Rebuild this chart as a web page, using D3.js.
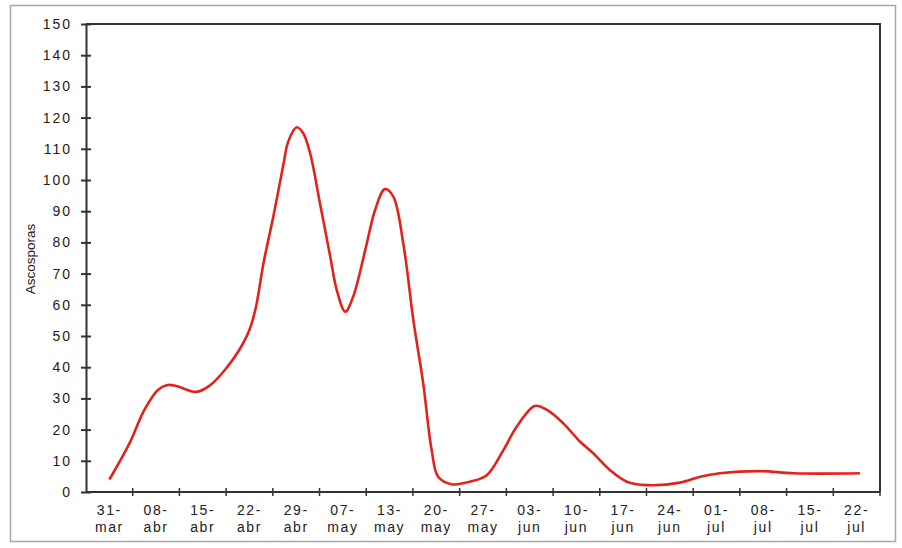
<!DOCTYPE html>
<html>
<head>
<meta charset="utf-8">
<script src="https://cdn.jsdelivr.net/npm/d3@7"></script>
<style>
  body { margin: 0; background: #fff; }
  text { font-family: "Liberation Sans", Arial, sans-serif; }
</style>
</head>
<body>
<div id="chart"></div>
<script>
// week labels on the x axis (two lines each)
const weekDays = ["31-", "08-", "15-", "22-", "29-", "07-", "13-", "20-", "27-", "03-", "10-", "17-", "24-", "01-", "08-", "15-", "22-"];
const weekMonths = ["mar", "abr", "abr", "abr", "abr", "may", "may", "may", "may", "jun", "jun", "jun", "jun", "jul", "jul", "jul", "jul"];

// sample positions (in weeks, 0 = 31-mar) and counts
const samplePos = [0, 0.43, 0.75, 1.04, 1.25, 1.43, 1.86, 2.14, 2.5, 2.78, 3.0, 3.14, 3.3, 3.51, 3.73, 3.83, 4.01, 4.15, 4.3, 4.51, 4.73, 4.87, 5.05, 5.22, 5.48, 5.69, 5.9, 6.08, 6.3, 6.51, 6.72, 6.9, 7.04, 7.33, 7.72, 8.08, 8.44, 8.72, 9.11, 9.37, 9.72, 10.08, 10.36, 10.72, 11.08, 11.5, 12.22, 12.65, 13.07, 13.93, 14.65, 16.07];
const ascosporas = [4, 15.6, 26.3, 32.7, 34.3, 34, 32.1, 34, 39.6, 45.5, 52, 59.4, 73.3, 88.2, 105.3, 112.3, 116.9, 115, 108.5, 92.5, 75.4, 64.7, 57.8, 62.6, 77.6, 90.4, 97.1, 94.7, 79, 55, 34.8, 13.5, 4.9, 2.5, 3.3, 5.4, 13.5, 20.9, 27.6, 26.3, 22, 16.1, 12.4, 7, 3.3, 2.2, 3, 4.9, 6, 6.7, 6, 6];

const yTicks = d3.range(0, 151, 10);

const W = 902, H = 548;
const margin = {top: 24, right: 22, bottom: 56, left: 86},
    width = W - margin.left - margin.right,
    height = H - margin.top - margin.bottom;

const svg = d3.select("#chart").append("svg")
    .attr("width", W)
    .attr("height", H);

// outer frame
svg.append("rect")
    .attr("x", 10.5).attr("y", 5.5)
    .attr("width", 885).attr("height", 536)
    .attr("fill", "none")
    .attr("stroke", "#a8a8a8")
    .attr("stroke-width", 1.5);

const g = svg.append("g")
    .attr("transform", `translate(${margin.left},${margin.top})`);

const band = d3.scaleBand()
    .domain(d3.range(weekDays.length))
    .range([0, width])
    .padding(0);

const x = d3.scaleLinear()
    .domain([0, weekDays.length - 1])
    .range([band.bandwidth() / 2, width - band.bandwidth() / 2]);

const y = d3.scaleLinear()
    .domain([0, 150])
    .range([height, 0]);

// top and right border of the plot
g.append("path")
    .attr("d", `M0,0H${width}V${height}`)
    .attr("fill", "none")
    .attr("stroke", "#333")
    .attr("stroke-width", 2);

// y axis
const yAxis = g.append("g")
    .call(d3.axisLeft(y).tickValues(yTicks).tickSize(0).tickPadding(14));
yAxis.select(".domain").attr("stroke", "#333").attr("stroke-width", 2);
yAxis.selectAll(".tick line").remove();
yAxis.selectAll(".tick").append("line")
    .attr("x1", -5).attr("x2", 5)
    .attr("stroke", "#333").attr("stroke-width", 2);
yAxis.selectAll(".tick text")
    .attr("font-size", 14)
    .attr("letter-spacing", 2)
    .attr("fill", "#222");

// x axis: ticks at band boundaries, labels in band centers
const xAxis = g.append("g")
    .attr("transform", `translate(0,${height})`);
xAxis.append("line")
    .attr("x1", 0).attr("x2", width)
    .attr("stroke", "#333").attr("stroke-width", 2);
xAxis.selectAll(".xt")
    .data(d3.range(1, weekDays.length + 1))
    .enter().append("line")
    .attr("x1", d => band.step() * d).attr("x2", d => band.step() * d)
    .attr("y1", -4).attr("y2", 4)
    .attr("stroke", "#333").attr("stroke-width", 1.5);

const lbl = xAxis.selectAll(".xl")
    .data(d3.range(weekDays.length))
    .enter().append("text")
    .attr("x", d => x(d))
    .attr("text-anchor", "middle")
    .attr("font-size", 14)
    .attr("letter-spacing", 1.6)
    .attr("fill", "#222");
lbl.append("tspan").attr("x", d => x(d)).attr("y", 23).text(d => weekDays[d]);
lbl.append("tspan").attr("x", d => x(d)).attr("y", 40).text(d => weekMonths[d]);

// y label
svg.append("text")
    .attr("transform", "translate(35,259) rotate(-90)")
    .attr("text-anchor", "middle")
    .attr("font-size", 13.5)
    .attr("fill", "#222")
    .text("Ascosporas");

// the series
const pts = samplePos.map((p, i) => [p, ascosporas[i]]);
g.append("path")
    .datum(pts)
    .attr("fill", "none")
    .attr("stroke", "#e3221b")
    .attr("stroke-width", 2.6)
    .attr("stroke-linejoin", "round")
    .attr("d", d3.line()
        .x(d => x(d[0]))
        .y(d => y(d[1]))
        .curve(d3.curveCatmullRom.alpha(0.5)));
</script>
</body>
</html>
